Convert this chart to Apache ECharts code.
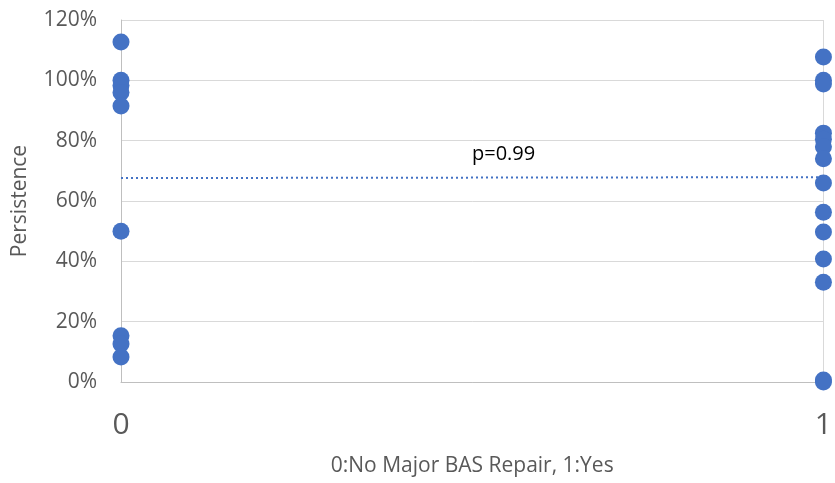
<!DOCTYPE html>
<html>
<head>
<meta charset="utf-8">
<script src="https://cdn.jsdelivr.net/npm/echarts@6/dist/echarts.min.js"></script>
<style>
  html, body { margin: 0; padding: 0; background: #fff; }
  #chart { width: 835px; height: 483px; }
</style>
</head>
<body>
<div id="chart"></div>
<script>
// persistence values (%) for group 0 (no major BAS repair)
const noRepair = [112.7, 100, 98.3, 96, 91.5, 50, 15.3, 12.6, 8.3]
// persistence values (%) for group 1 (yes)
const withRepair = [107.7, 100, 98.8, 82.5, 80.5, 78, 74, 66, 56.3, 49.7, 40.8, 33.1, 0.7, 0]
// linear trendline ends
const trendX = [0, 1]
const trendY = [67.6, 67.9]
const pLabel = 'p=0.99'

const grey = '#595959'
const font = 'Open Sans'

const chart = echarts.init(document.getElementById('chart'))
const option = {
  animation: false,
  grid: { left: 121, right: 2, top: 20, bottom: 101 },
  xAxis: {
    type: 'value',
    min: 0,
    max: 1,
    interval: 1,
    name: '0:No Major BAS Repair, 1:Yes',
    nameLocation: 'middle',
    nameGap: 74,
    nameTextStyle: { color: grey, fontSize: 21, fontFamily: font },
    axisLine: { show: true, lineStyle: { color: '#bfbfbf', width: 1 } },
    axisTick: { show: false },
    axisLabel: { color: grey, fontSize: 30, fontFamily: font, margin: 28, showMaxLabel: true },
    splitLine: { show: true, lineStyle: { color: '#d9d9d9' } }
  },
  yAxis: {
    type: 'value',
    min: 0,
    max: 120,
    interval: 20,
    name: 'Persistence',
    nameLocation: 'middle',
    nameGap: 90,
    nameTextStyle: { color: grey, fontSize: 21, fontFamily: font },
    axisLine: { show: true, lineStyle: { color: '#bfbfbf', width: 1 } },
    axisTick: { show: false },
    axisLabel: { color: grey, fontSize: 21, fontFamily: font, margin: 24, formatter: '{value}%' },
    splitLine: { lineStyle: { color: '#d9d9d9' } }
  },
  series: [
    {
      type: 'scatter',
      symbolSize: 17,
      itemStyle: { color: '#4472c4', opacity: 1 },
      data: noRepair.map(v => [0, v])
    },
    {
      type: 'scatter',
      symbolSize: 17,
      itemStyle: { color: '#4472c4', opacity: 1 },
      data: withRepair.map(v => [1, v])
    },
    {
      type: 'line',
      symbol: 'none',
      lineStyle: { color: '#4472c4', width: 2, type: [2, 3] },
      data: trendX.map((x, i) => [x, trendY[i]]),
      z: 1
    }
  ],
  graphic: [{
    type: 'text',
    left: 472,
    top: 144,
    style: { text: pLabel, fill: '#000', fontSize: 20, fontFamily: font }
  }]
}
chart.setOption(option)
</script>
</body>
</html>
